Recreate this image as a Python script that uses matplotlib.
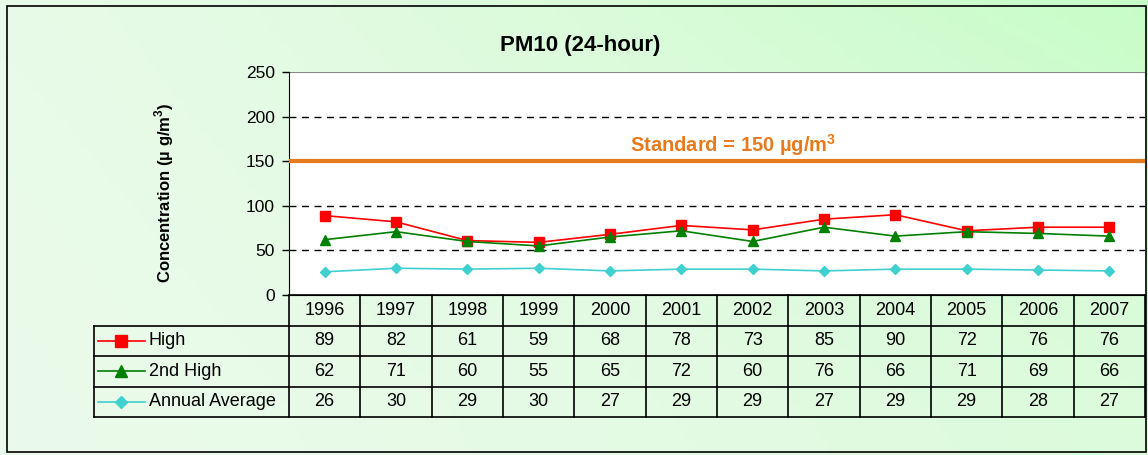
import numpy as np
import matplotlib
matplotlib.use("Agg")
import matplotlib.pyplot as plt
from matplotlib.patches import Rectangle

years = ["1996", "1997", "1998", "1999", "2000", "2001", "2002", "2003", "2004", "2005", "2006", "2007"]
high = [89, 82, 61, 59, 68, 78, 73, 85, 90, 72, 76, 76]
second_high = [62, 71, 60, 55, 65, 72, 60, 76, 66, 71, 69, 66]
annual_avg = [26, 30, 29, 30, 27, 29, 29, 27, 29, 29, 28, 27]
series_names = ["High", "2nd High", "Annual Average"]
standard = 150
yticks = [0, 50, 100, 150, 200, 250]

plt.rcParams['font.family'] = ['Liberation Sans', 'DejaVu Sans']
plt.rcParams['mathtext.fontset'] = 'custom'
plt.rcParams['mathtext.rm'] = 'Liberation Sans'
plt.rcParams['mathtext.bf'] = 'Liberation Sans:bold'

W, H = 1148, 455
fig = plt.figure(figsize=(W / 100, H / 100), dpi=100)

# background gradient
bg = fig.add_axes([0, 0, 1, 1], zorder=-10)
bg.set_axis_off()
nx, ny = 200, 100
gx = np.linspace(0, 1, nx)[None, :]
gy = np.linspace(0, 1, ny)[:, None]
t = np.clip(0.15 + 0.85 * gx ** 1.3, 0, 1) * (0.45 + 0.55 * (1 - gy) ** 1.5)
white = np.array([0.93, 0.98, 0.93])
green = np.array([0.78, 0.99, 0.78])
img = white[None, None, :] * (1 - t[..., None]) + green[None, None, :] * t[..., None]
bg.imshow(img, extent=[0, 1, 0, 1], aspect='auto', origin='upper')
bg.set_xlim(0, 1); bg.set_ylim(0, 1)
bg.add_patch(Rectangle((7 / W, 1 - 452 / H), (1146 - 7) / W, (452 - 6) / H,
                       fill=False, edgecolor='black', lw=1.2))

def fx(px):
    return px / W

def fy(py):
    return 1 - py / H

L, R, T, B = 289, 1145, 72, 295
ax = fig.add_axes([fx(L), fy(B), (R - L) / W, (B - T) / H])
ax.set_facecolor('white')
x = np.arange(len(years))
ax.set_xlim(-0.5, len(years) - 0.5)
ax.set_ylim(0, 250)
ax.set_yticks(yticks)
ax.set_yticklabels([str(v) for v in yticks], fontsize=12.5)
ax.set_xticks([])
for v in yticks[1:-1]:
    ax.axhline(v, color='black', ls=(0, (5, 4)), lw=1, zorder=1)
ax.axhline(250, color='#888888', lw=0.8, zorder=1)
ax.axhline(standard, color='#E87A1E', lw=3, zorder=3)
ax.text(5.73, standard + 4, "Standard = 150 µg/m$^{\\mathbf{3}}$", color='#E87A1E',
        fontsize=14.5, fontweight='bold', ha='center', va='bottom')

ax.plot(x, high, color='red', marker='s', ms=7, lw=1.2, zorder=5)
ax.plot(x, second_high, color='green', marker='^', ms=7, lw=1.2, zorder=5)
ax.plot(x, annual_avg, color='#40D0D0', marker='D', ms=5, lw=1.2, zorder=5)

for s in ['top', 'right']:
    ax.spines[s].set_visible(False)
ax.spines['left'].set_color('black')
ax.spines['bottom'].set_color('black')
ax.tick_params(axis='y', direction='out', length=5, width=1, pad=5)

fig.text(fx(580), fy(45), "PM10 (24-hour)", fontsize=16, fontweight='bold', ha='center', va='center')
fig.text(fx(164), fy(193), "Concentration (µ g/m$^{\\mathbf{3}}$)", fontsize=12, fontweight='bold',
         rotation=90, ha='center', va='center')

# table
TL, TB = 94, 417
unit = (R - L) / len(years)
left_units = (L - TL) / unit
tax = fig.add_axes([fx(TL), fy(TB), (R - TL) / W, (TB - B) / H])
tax.set_axis_off()
tax.set_xlim(-0.5 - left_units, len(years) - 0.5)
tax.set_ylim(4, 0)
lk = dict(color='black', lw=1.2, clip_on=False)
x0 = -0.5 - left_units
xr = len(years) - 0.5
tax.plot([-0.5, xr], [0, 0], **lk)
for r in [1, 2, 3, 4]:
    tax.plot([x0, xr], [r, r], **lk)
tax.plot([x0, x0], [1, 4], **lk)
for i in range(len(years) + 1):
    tax.plot([i - 0.5, i - 0.5], [0, 4], **lk)
for i, yv in enumerate(years):
    tax.text(i, 0.5, yv, ha='center', va='center', fontsize=13)
data = [high, second_high, annual_avg]
styles = [('red', 's', 8), ('green', '^', 8), ('#40D0D0', 'D', 6)]
for r, (vals, name, (c, m, ms)) in enumerate(zip(data, series_names, styles)):
    for i, v in enumerate(vals):
        tax.text(i, r + 1.5, str(v), ha='center', va='center', fontsize=13)
    lx0 = x0 + 4 / unit
    lx1 = x0 + 51 / unit
    tax.plot([lx0, lx1], [r + 1.5, r + 1.5], color=c, lw=1.2)
    tax.plot([(lx0 + lx1) / 2], [r + 1.5], color=c, marker=m, ms=ms, ls='none')
    tax.text(x0 + 55 / unit, r + 1.5, name, ha='left', va='center', fontsize=13)

fig.savefig("out.png", dpi=100)
